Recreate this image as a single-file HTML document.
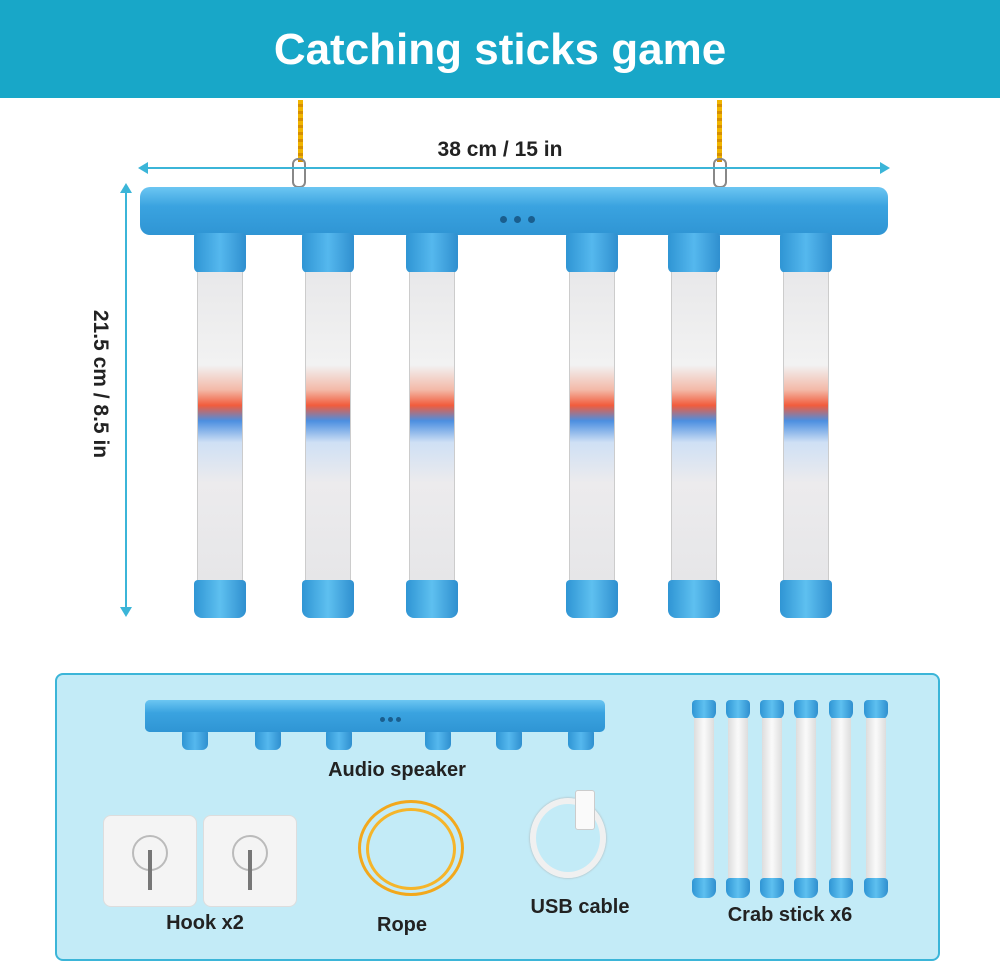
<!DOCTYPE html>
<html><head><meta charset="utf-8"><style>
*{margin:0;padding:0;box-sizing:border-box}
body{width:1000px;height:965px;background:#fff;position:relative;overflow:hidden;font-family:"Liberation Sans",sans-serif}
.a{position:absolute}
.hdr{left:0;top:0;width:1000px;height:98px;background:#18a7c8;color:#fff;font-weight:bold;font-size:44px;text-align:center;line-height:100px}
.lbl{font-weight:bold;color:#222;font-size:21px;text-align:center}
.bar{background:linear-gradient(#6cc6f2,#3aa3e0 40%,#2f95d4);border-radius:10px}
.conn{background:linear-gradient(90deg,#2f95d4,#55b8ee 50%,#2f8fcf);border-radius:3px 3px 6px 6px}
.tube{background:linear-gradient(180deg,#e8e8ea 0%,#f2f2f2 30%,#f3b9a8 38%,#f25c3c 43%,#4c8fe0 48%,#cfe0f5 55%,#ecebed 68%,#e6e6e8 100%);border-left:1px solid #ccc;border-right:1px solid #ccc}
.cap{background:linear-gradient(90deg,#2f95d4,#5ec0f0 50%,#2f8fcf);border-radius:4px 4px 8px 8px}
.stick{background:linear-gradient(90deg,#ddd,#fafafa 50%,#ddd)}
</style></head><body>
<div class="a hdr">Catching sticks game</div>

<!-- ropes -->
<div class="a" style="left:298px;top:100px;width:5px;height:62px;background:repeating-linear-gradient(#f0b400 0 4px,#d68f00 4px 7px)"></div>
<div class="a" style="left:717px;top:100px;width:5px;height:62px;background:repeating-linear-gradient(#f0b400 0 4px,#d68f00 4px 7px)"></div>
<div class="a" style="left:292px;top:158px;width:14px;height:30px;border:2px solid #888;border-radius:6px"></div>
<div class="a" style="left:713px;top:158px;width:14px;height:30px;border:2px solid #888;border-radius:6px"></div>

<!-- dimension lines -->
<div class="a" style="left:145px;top:167px;width:742px;height:2px;background:#3bb5d8"></div>
<div class="a" style="left:138px;top:162px;width:0;height:0;border:6px solid transparent;border-right:10px solid #3bb5d8;border-left:0"></div>
<div class="a" style="left:880px;top:162px;width:0;height:0;border:6px solid transparent;border-left:10px solid #3bb5d8;border-right:0"></div>
<div class="a lbl" style="left:400px;top:138px;width:200px">38 cm / 15 in</div>
<div class="a" style="left:125px;top:190px;width:2px;height:422px;background:#3bb5d8"></div>
<div class="a" style="left:120px;top:183px;width:0;height:0;border:6px solid transparent;border-bottom:10px solid #3bb5d8;border-top:0"></div>
<div class="a" style="left:120px;top:607px;width:0;height:0;border:6px solid transparent;border-top:10px solid #3bb5d8;border-bottom:0"></div>
<div class="a lbl" style="left:0px;top:372px;width:200px;transform:rotate(90deg)">21.5 cm / 8.5 in</div>

<!-- main bar -->
<div class="a bar" style="left:140px;top:187px;width:748px;height:48px"></div>
<div class="a" style="left:500px;top:216px;width:7px;height:7px;border-radius:50%;background:#1a5e8e"></div>
<div class="a" style="left:514px;top:216px;width:7px;height:7px;border-radius:50%;background:#1a5e8e"></div>
<div class="a" style="left:528px;top:216px;width:7px;height:7px;border-radius:50%;background:#1a5e8e"></div>

<div class="a conn" style="left:194px;top:233px;width:52px;height:40px"></div>
<div class="a conn" style="left:302px;top:233px;width:52px;height:40px"></div>
<div class="a conn" style="left:406px;top:233px;width:52px;height:40px"></div>
<div class="a conn" style="left:566px;top:233px;width:52px;height:40px"></div>
<div class="a conn" style="left:668px;top:233px;width:52px;height:40px"></div>
<div class="a conn" style="left:780px;top:233px;width:52px;height:40px"></div>

<div class="a tube" style="left:197px;top:272px;width:46px;height:310px"></div>
<div class="a tube" style="left:305px;top:272px;width:46px;height:310px"></div>
<div class="a tube" style="left:409px;top:272px;width:46px;height:310px"></div>
<div class="a tube" style="left:569px;top:272px;width:46px;height:310px"></div>
<div class="a tube" style="left:671px;top:272px;width:46px;height:310px"></div>
<div class="a tube" style="left:783px;top:272px;width:46px;height:310px"></div>

<div class="a cap" style="left:194px;top:580px;width:52px;height:38px"></div>
<div class="a cap" style="left:302px;top:580px;width:52px;height:38px"></div>
<div class="a cap" style="left:406px;top:580px;width:52px;height:38px"></div>
<div class="a cap" style="left:566px;top:580px;width:52px;height:38px"></div>
<div class="a cap" style="left:668px;top:580px;width:52px;height:38px"></div>
<div class="a cap" style="left:780px;top:580px;width:52px;height:38px"></div>

<!-- panel -->
<div class="a" style="left:55px;top:673px;width:885px;height:288px;background:#c3ebf7;border:2px solid #3bb5d8;border-radius:8px"></div>
<div class="a bar" style="left:145px;top:700px;width:293px;height:32px;border-radius:5px"></div>
<div class="a" style="left:380px;top:717px;width:5px;height:5px;border-radius:50%;background:#1a5e8e;box-shadow:8px 0 #1a5e8e,16px 0 #1a5e8e"></div>
<div class="a conn" style="left:182px;top:730px;width:26px;height:20px"></div>
<div class="a conn" style="left:255px;top:730px;width:26px;height:20px"></div>
<div class="a conn" style="left:326px;top:730px;width:26px;height:20px"></div>
<div class="a conn" style="left:425px;top:730px;width:26px;height:20px;display:none"></div>
<div class="a conn" style="left:424px;top:730px;width:26px;height:20px;left:425px"></div>
<div class="a conn" style="left:496px;top:730px;width:26px;height:20px"></div>
<div class="a conn" style="left:568px;top:730px;width:26px;height:20px"></div>
<div class="a bar" style="left:145px;top:700px;width:293px;height:32px;border-radius:5px;width:460px"></div>
<div class="a" style="left:380px;top:717px;width:5px;height:5px;border-radius:50%;background:#1a5e8e;box-shadow:8px 0 #1a5e8e,16px 0 #1a5e8e"></div>
<div class="a lbl" style="left:297px;top:759px;width:200px;font-size:20px">Audio speaker</div>

<!-- hooks -->
<div class="a" style="left:103px;top:815px;width:94px;height:92px;background:#f4f4f4;border:1px solid #ddd;border-radius:8px"></div>
<div class="a" style="left:203px;top:815px;width:94px;height:92px;background:#f4f4f4;border:1px solid #ddd;border-radius:8px"></div>
<div class="a" style="left:132px;top:835px;width:36px;height:36px;border:2px solid #bbb;border-radius:50%"></div>
<div class="a" style="left:232px;top:835px;width:36px;height:36px;border:2px solid #bbb;border-radius:50%"></div>
<div class="a" style="left:148px;top:850px;width:4px;height:40px;background:#777"></div>
<div class="a" style="left:248px;top:850px;width:4px;height:40px;background:#777"></div>
<div class="a lbl" style="left:105px;top:912px;width:200px;font-size:20px">Hook x2</div>

<!-- rope -->
<div class="a" style="left:358px;top:800px;width:106px;height:96px;border:3px solid #f2a81c;border-radius:50%"></div>
<div class="a" style="left:366px;top:808px;width:90px;height:82px;border:3px solid #f5b52a;border-radius:50%"></div>
<div class="a lbl" style="left:302px;top:914px;width:200px;font-size:20px">Rope</div>

<!-- usb -->
<div class="a" style="left:530px;top:798px;width:76px;height:80px;border:6px solid #f0f0f0;border-radius:50%;box-shadow:0 0 2px #aaa"></div>
<div class="a" style="left:575px;top:790px;width:20px;height:40px;background:#fafafa;border:1px solid #ccc;border-radius:3px"></div>
<div class="a lbl" style="left:480px;top:896px;width:200px;font-size:20px">USB cable</div>

<!-- sticks -->
<div class="a cap" style="left:692px;top:700px;width:24px;height:20px"></div><div class="a stick" style="left:694px;top:718px;width:20px;height:162px"></div><div class="a cap" style="left:692px;top:878px;width:24px;height:20px"></div>
<div class="a cap" style="left:726px;top:700px;width:24px;height:20px"></div><div class="a stick" style="left:728px;top:718px;width:20px;height:162px"></div><div class="a cap" style="left:726px;top:878px;width:24px;height:20px"></div>
<div class="a cap" style="left:760px;top:700px;width:24px;height:20px"></div><div class="a stick" style="left:762px;top:718px;width:20px;height:162px"></div><div class="a cap" style="left:760px;top:878px;width:24px;height:20px"></div>
<div class="a cap" style="left:794px;top:700px;width:24px;height:20px"></div><div class="a stick" style="left:796px;top:718px;width:20px;height:162px"></div><div class="a cap" style="left:794px;top:878px;width:24px;height:20px"></div>
<div class="a cap" style="left:829px;top:700px;width:24px;height:20px"></div><div class="a stick" style="left:831px;top:718px;width:20px;height:162px"></div><div class="a cap" style="left:829px;top:878px;width:24px;height:20px"></div>
<div class="a cap" style="left:864px;top:700px;width:24px;height:20px"></div><div class="a stick" style="left:866px;top:718px;width:20px;height:162px"></div><div class="a cap" style="left:864px;top:878px;width:24px;height:20px"></div>
<div class="a lbl" style="left:690px;top:904px;width:200px;font-size:20px">Crab stick x6</div>
</body></html>
